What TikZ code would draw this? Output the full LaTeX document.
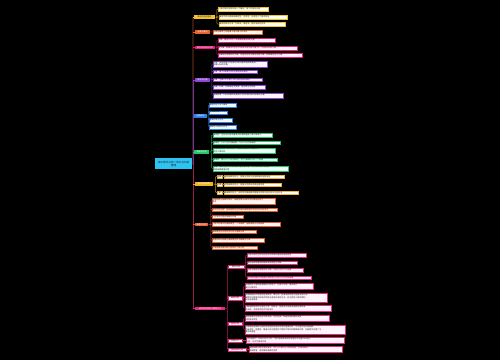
\documentclass[tikz,border=0pt]{standalone}
\usepackage{fontspec}
\newfontfamily\cjk{Noto Sans CJK SC}
\newcommand\mapfont{\cjk\fontsize{2}{2.5}\selectfont\lineskip=0pt\lineskiplimit=-5pt}
\newcommand\rootfont{\cjk\fontsize{2.6}{3.2}\selectfont\lineskip=0pt\lineskiplimit=-5pt}
\definecolor{rootcyan}{HTML}{2EC4F1}
\definecolor{yel}{HTML}{F2C12E}
\definecolor{org}{HTML}{E8632B}
\definecolor{mag}{HTML}{E8197D}
\definecolor{pur}{HTML}{8E44D6}
\definecolor{blu}{HTML}{2F80ED}
\definecolor{grn}{HTML}{27C46B}
\definecolor{gld}{HTML}{F0B428}
\definecolor{ora}{HTML}{E85A2A}
\definecolor{pnk}{HTML}{E8287F}
\definecolor{trkbrown}{HTML}{A0462A}
\definecolor{trkpurple}{HTML}{6A35A8}
\definecolor{trkred}{HTML}{9A1F50}
\begin{document}
\begin{tikzpicture}[x=1pt,y=-1pt,
    root/.style={fill=rootcyan, text=black!85, font=\rootfont, align=center,
      inner sep=0.5pt, minimum width=37pt, minimum height=11pt, anchor=north west},
    branch/.style={fill=#1, text=white, font=\mapfont, inner sep=0.3pt, anchor=north west},
    leaf/.style={draw=#1, fill=#1!5!white, line width=0.2pt, text=black!85, font=\mapfont,
      inner sep=0.35pt, anchor=north west, align=left},
    sub/.style={draw=#1, fill=#1!5!white, line width=0.2pt, text=black!85, font=\mapfont,
      inner sep=0.3pt, anchor=north west},
    link/.style={draw=#1!75!black, line width=0.45pt, rounded corners=0.8pt},
    trunk/.style={draw=#1, line width=0.9pt}]
  \fill[black] (0,0) rectangle (500,360);

  \node[root] (root) at (155,158) {高中数学必修一知识点归纳\\整理};
  \coordinate (hub) at (193,164);

  % 集合的有关概念
  \node[branch=yel, text=black!80, minimum width=21pt, minimum height=4pt] (b1) at (194,15) {集合的有关概念};
  \node[leaf=yel, text width=49pt, minimum height=4pt] (l11) at (218,7) {一组对象的全体形成一个集合，每个对象叫元素};
  \node[leaf=yel, text width=67pt, minimum height=3.5pt] (l12) at (219,15) {集合中的元素具有确定性、互异性、无序性三个基本特征};
  \node[leaf=yel, text width=65pt, minimum height=4pt] (l13) at (219,22) {集合的表示方法：列举法、描述法、图示法和区间法};

  % 元素与集合
  \node[branch=org, minimum width=15pt, minimum height=3.5pt] (b2) at (195,30) {元素与集合};
  \node[leaf=org, text width=48pt, minimum height=3.5pt] (l21) at (213,30) {元素与集合之间是属于或不属于的关系};

  % 集合间的基本关系
  \node[branch=mag, minimum width=20pt, minimum height=3.5pt] (b3) at (195,45.5) {集合间的基本关系};
  \node[leaf=mag, text width=56pt, minimum height=3.5pt] (l31) at (218,38) {子集：集合A中任一元素都是集合B的元素};
  \node[leaf=mag, text width=78pt, minimum height=3.5pt] (l32) at (218,46) {真子集：若集合A包含于B且B中有元素不属于A，则A是B的真子集};
  \node[leaf=mag, text width=83pt, minimum height=4pt] (l33) at (218,52.5) {空集是任何集合的子集，也是任何非空集合的真子集；相等集合互为子集};

  % 集合的运算
  \node[branch=pur, minimum width=15pt, minimum height=3.5pt] (b4) at (195,78) {集合的运算};
  \node[leaf=pur, text width=53pt, minimum height=5.5pt] (l41) at (213,61) {交集：由所有属于A且属于B的元素所组成的集合，\\叫做A与B的交集};
  \node[leaf=pur, text width=43pt, minimum height=3.5pt] (l42) at (213,69.5) {并集：属于A或属于B的元素组成的集合};
  \node[leaf=pur, text width=48pt, minimum height=3.5pt] (l43) at (213,77.5) {补集：全集U中不属于A的元素组成的集合};
  \node[leaf=pur, text width=51pt, minimum height=3.5pt] (l44) at (213,85) {交集、并集、补集满足交换律、结合律与分配律};
  \node[leaf=pur, text width=69pt, minimum height=5pt] (l45) at (213,92.5) {德摩根律：A与B并集的补集等于A的补集与B的补集的交集};

  % 函数概念
  \node[branch=blu, minimum width=13pt, minimum height=3.5pt] (b5) at (194,114) {函数概念};
  \node[leaf=blu, text width=26pt, minimum height=3.5pt] (l51) at (209,103) {函数的定义与三要素};
  \node[leaf=blu, text width=17pt, minimum height=3pt] (l52) at (209,110.5) {定义域求法};
  \node[leaf=blu, text width=22pt, minimum height=3.5pt] (l53) at (209,118) {值域的常见求法};
  \node[leaf=blu, text width=26pt, minimum height=3.5pt] (l54) at (209,125) {函数的三种表示方法};

  % 函数的性质
  \node[branch=grn, minimum width=15pt, minimum height=3.5pt] (b6) at (194,150) {函数的性质};
  \node[leaf=grn, text width=58pt, minimum height=4pt] (l61) at (213,133) {单调性：在区间内自变量增大时函数值随之增大或减小};
  \node[leaf=grn, text width=66pt, minimum height=3.5pt] (l62) at (213,140.5) {奇偶性：f(-x)=f(x)为偶函数，f(-x)=-f(x)为奇函数};
  \node[leaf=grn, text width=61pt, minimum height=5.5pt] (l63) at (213,147.5) {奇函数图像关于原点对称，偶函数图像关于y轴对称，\\且定义域对称};
  \node[leaf=grn, text width=63pt, minimum height=3.5pt] (l64) at (213,157.5) {周期性：若f(x+T)=f(x)恒成立，则T为函数f(x)的一个周期};
  \node[leaf=grn, text width=74pt, minimum height=5.5pt] (l65) at (213,165.5) {最值：函数在定义域上的最大值与最小值，可利用单调性与图像\\求解函数最值问题};

  % 基本初等函数
  \node[branch=gld, minimum width=18pt, minimum height=4pt] (b7) at (195,182) {基本初等函数};
  \node[sub=gld, minimum width=5pt, minimum height=3pt] (s71) at (217,175) {指数};
  \node[sub=gld, minimum width=5pt, minimum height=3pt] (s72) at (217,183) {对数};
  \node[sub=gld, minimum width=5pt, minimum height=3pt] (s73) at (217,191) {幂};
  \node[leaf=gld, text width=59pt, minimum height=3.5pt] (l71) at (224,174.75) {指数函数的定义、图像与性质以及指数幂的运算法则};
  \node[leaf=gld, text width=56pt, minimum height=3.5pt] (l72) at (224,182.75) {对数函数的定义、图像与性质及对数运算性质};
  \node[leaf=gld, text width=73pt, minimum height=3.5pt] (l73) at (224,190.75) {幂函数的定义、五种常见幂函数的图像与性质以及比较大小的方法};

  % 函数的应用
  \node[branch=ora, minimum width=13pt, minimum height=3.5pt] (b8) at (195,222.5) {函数的应用};
  \node[leaf=ora, text width=62pt, minimum height=5.5pt] (l81) at (212,198) {方程的根与函数的零点：函数图像与x轴交点的横坐标即为\\零点};
  \node[leaf=ora, text width=64pt, minimum height=3.5pt] (l82) at (212,207.5) {零点存在定理：连续函数在区间端点函数值异号则区间内有零点};
  \node[leaf=ora, text width=30pt, minimum height=3.5pt] (l83) at (212,214.5) {二分法求方程近似解的步骤};
  \node[leaf=ora, text width=67pt, minimum height=4pt] (l84) at (212,222) {几类不同增长的函数模型：一次函数、指数函数与对数函数};
  \node[leaf=ora, text width=43pt, minimum height=3.5pt] (l85) at (212,229.5) {函数模型的应用实例分析与建模步骤};
  \node[leaf=ora, text width=51pt, minimum height=4pt] (l86) at (212,238) {根据实际问题建立函数模型并求解最优方案};
  \node[leaf=ora, text width=44pt, minimum height=3.5pt] (l87) at (212,245.5) {利用函数图像判断方程根的个数问题};

  % 高考常考题型与解题方法
  \node[branch=pnk, minimum width=30pt, minimum height=3.5pt] (b9) at (195,306.5) {高考常考题型与解题方法};
  \node[sub=pnk, minimum width=16pt, minimum height=3.5pt] (sa) at (228,264.5) {集合问题};
  \node[leaf=pnk, text width=58pt, minimum height=4pt] (la1) at (247,253) {利用元素的互异性检验所求参数的值是否满足题意};
  \node[leaf=pnk, text width=49pt, minimum height=3.5pt] (la2) at (247,260.5) {集合运算常借助数轴或韦恩图进行求解};
  \node[leaf=pnk, text width=55pt, minimum height=4pt] (la3) at (247,268) {注意空集是任何集合的子集，分类讨论时不可遗漏};
  \node[leaf=pnk, text width=63pt, minimum height=3.5pt] (la4) at (247,275.5) {含参数的集合问题要对参数进行分类讨论并检验结果};
  \node[sub=pnk, minimum width=14pt, minimum height=3.5pt] (sb) at (228,296) {函数问题};
  \node[leaf=pnk, text width=67pt, minimum height=6pt] (lb1) at (245,283) {求函数定义域时要使解析式有意义，分母不为零，偶次根式\\被开方数非负};
  \node[leaf=pnk, text width=81pt, minimum height=8.5pt] (lb2) at (245,293) {求函数解析式常用待定系数法、换元法、配凑法和构造方程组法等方法，\\解题时应根据已知条件的特点选择合适的方法，并注意定义域的限制\\以免出现错误};
  \node[leaf=pnk, text width=85pt, minimum height=6pt] (lb3) at (245,305) {判断函数单调性可用定义法、导数法、图像法以及复合函数同增异减\\的法则，注意单调区间不能合并};
  \node[sub=pnk, minimum width=14pt, minimum height=3.5pt] (sc) at (228,321.5) {图像问题};
  \node[leaf=pnk, text width=83pt, minimum height=6pt] (lc1) at (245,315) {函数图像的变换包括平移变换、对称变换、伸缩变换和翻折变换\\四种基本类型};
  \node[leaf=pnk, text width=99pt, minimum height=8.5pt] (lc2) at (245,325) {利用函数图像研究函数性质是数形结合思想的重要体现，可以直观地判断函数\\的单调性、奇偶性、最值以及方程根的个数和不等式的解集等问题，在解题中应用广泛\\需熟练掌握};
  \node[sub=pnk, minimum width=14pt, minimum height=3.5pt] (sd) at (228,338.5) {比较大小};
  \node[leaf=pnk, text width=97pt, minimum height=6pt] (ld1) at (246,337.25) {比较指数式、对数式的大小时，常利用函数单调性或借助中间量0和1进行\\比较，也可作差或作商};
  \node[sub=pnk, minimum width=18pt, minimum height=3.5pt] (se) at (228,347.5) {抽象函数问题};
  \node[leaf=pnk, text width=92pt, minimum height=6pt] (le1) at (249,346.25) {抽象函数问题常用赋值法，令x=y=0或x=y=1等特殊值，求出特殊点\\的函数值，进而推导函数的性质};

  % trunk
  \draw[trunk=trkbrown] (root.east) -- (hub) |- (b1.west);
  \draw[trunk=trkpurple] (hub) |- (b4.west);
  \draw[trunk=trkred] (hub) |- (b9.west);
  \draw[trunk=yel] (b1.west -| hub) -- (b1.west);
  \draw[trunk=org] (b2.west -| hub) -- (b2.west);
  \draw[trunk=mag] (b3.west -| hub) -- (b3.west);
  \draw[trunk=pur] (b4.west -| hub) -- (b4.west);
  \draw[trunk=blu] (b5.west -| hub) -- (b5.west);
  \draw[trunk=grn] (b6.west -| hub) -- (b6.west);
  \draw[trunk=gld] (b7.west -| hub) -- (b7.west);
  \draw[trunk=ora] (b8.west -| hub) -- (b8.west);
  \draw[trunk=pnk] (b9.west -| hub) -- (b9.west);

  % brackets
  \draw[link=yel] (b1.east) -- ++(1.5,0) |- (l11.west) (b1.east) -- ++(1.5,0) |- (l12.west)
    (b1.east) -- ++(1.5,0) |- (l13.west);
  \draw[link=org] (b2.east) -- (l21.west);
  \draw[link=mag] (b3.east) -- ++(1.5,0) |- (l31.west) (b3.east) -- ++(1.5,0) |- (l32.west)
    (b3.east) -- ++(1.5,0) |- (l33.west);
  \draw[link=pur] (b4.east) -- ++(1.5,0) |- (l41.west) (b4.east) -- ++(1.5,0) |- (l42.west)
    (b4.east) -- ++(1.5,0) |- (l43.west) (b4.east) -- ++(1.5,0) |- (l44.west)
    (b4.east) -- ++(1.5,0) |- (l45.west);
  \draw[link=blu] (b5.east) -- ++(1,0) |- (l51.west) (b5.east) -- ++(1,0) |- (l52.west)
    (b5.east) -- ++(1,0) |- (l53.west) (b5.east) -- ++(1,0) |- (l54.west);
  \draw[link=grn] (b6.east) -- ++(2,0) |- (l61.west) (b6.east) -- ++(2,0) |- (l62.west)
    (b6.east) -- ++(2,0) |- (l63.west) (b6.east) -- ++(2,0) |- (l64.west)
    (b6.east) -- ++(2,0) |- (l65.west);
  \draw[link=gld] (b7.east) -- ++(2,0) |- (s71.west) (b7.east) -- ++(2,0) |- (s72.west)
    (b7.east) -- ++(2,0) |- (s73.west);
  \draw[link=gld] (s71.east) -- (l71.west) (s72.east) -- (l72.west) (s73.east) -- (l73.west);
  \draw[link=ora] (b8.east) -- ++(2.5,0) |- (l81.west) (b8.east) -- ++(2.5,0) |- (l82.west)
    (b8.east) -- ++(2.5,0) |- (l83.west) (b8.east) -- ++(2.5,0) |- (l84.west)
    (b8.east) -- ++(2.5,0) |- (l85.west) (b8.east) -- ++(2.5,0) |- (l86.west)
    (b8.east) -- ++(2.5,0) |- (l87.west);
  \draw[link=pnk] (b9.east) -- ++(2,0) |- (sa.west) (b9.east) -- ++(2,0) |- (sb.west)
    (b9.east) -- ++(2,0) |- (sc.west) (b9.east) -- ++(2,0) |- (sd.west)
    (b9.east) -- ++(2,0) |- (se.west);
  \draw[link=pnk] (sa.east) -- ++(1.5,0) |- (la1.west) (sa.east) -- ++(1.5,0) |- (la2.west)
    (sa.east) -- ++(1.5,0) |- (la3.west) (sa.east) -- ++(1.5,0) |- (la4.west);
  \draw[link=pnk] (sb.east) -- ++(1.5,0) |- (lb1.west) (sb.east) -- ++(1.5,0) |- (lb2.west)
    (sb.east) -- ++(1.5,0) |- (lb3.west);
  \draw[link=pnk] (sc.east) -- ++(1.5,0) |- (lc1.west) (sc.east) -- ++(1.5,0) |- (lc2.west);
  \draw[link=pnk] (sd.east) -- (ld1.west) (se.east) -- (le1.west);
\end{tikzpicture}
\end{document}
